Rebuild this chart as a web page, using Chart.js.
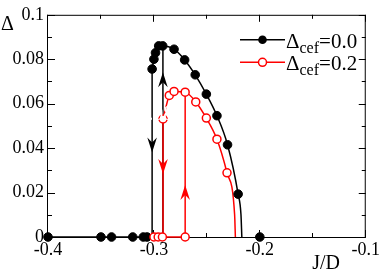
<!DOCTYPE html>
<html>
<head>
  <meta charset="UTF-8" />
  <script src="https://cdn.jsdelivr.net/npm/chart.js"></script>
</head>
<body style="margin:0">
  <canvas id="gapChart" width="382" height="272"></canvas>

  <script>
    // === \u0394cef = 0.0 (black) ===
    const blackZeroJ = [-0.4, -0.35, -0.34, -0.32, -0.31, -0.3065, -0.2];
    const blackJ = [-0.3017, -0.3, -0.2985, -0.2955, -0.2917, -0.281, -0.271, -0.261, -0.2505, -0.2405, -0.2305, -0.2205];
    const blackD = [0.0756, 0.080, 0.0829, 0.086, 0.086, 0.0845, 0.0797, 0.073, 0.0643, 0.0546, 0.0415, 0.0193];
    const blackTailJ = [-0.2178, -0.217];
    const blackTailD = [0.01, 0];
    const blackJumpJ = [-0.3017, -0.2915];
    const blackJumpTop = [0.0756, 0.086];

    // === red series ===
    const redZeroJ = [-0.3, -0.296, -0.292, -0.2705];
    const redJ = [-0.2914, -0.2855, -0.281, -0.2705, -0.2605, -0.2505, -0.2405, -0.231];
    const redD = [0.0531, 0.0637, 0.0655, 0.0652, 0.0608, 0.0535, 0.044, 0.0289];
    const redTailJ = [-0.2238, -0.2231];
    const redTailD = [0.01, 0];
    const redJumpJ = [-0.2914, -0.2705];
    const redJumpTop = [0.0531, 0.0652];

    // hysteresis arrows (tip position, direction)
    const arrowJ = [-0.3017, -0.2915, -0.2914, -0.2705];
    const arrowTipD = [0.038, 0.0741, 0.0284, 0.0234];
    const arrowDir = [-1, 1, -1, 1];
    const arrowSeries = [0, 0, 1, 1];

    const xTicks = [-0.4, -0.3, -0.2, -0.1];
    const yTicks = [0, 0.02, 0.04, 0.06, 0.08, 0.1];

    const seriesColor = ['#000000', '#ff0000'];
    const seriesLabel = ['0.0', '0.2'];
    const DELTA = '\u0394';

    const pts = (xs, ys) => xs.map((v, i) => ({ x: v, y: ys[i] }));
    const zeros = xs => xs.map(v => ({ x: v, y: 0 }));

    function jumpSets(js, tops, color, order) {
      return js.map((j, i) => ({
        data: [{ x: j, y: 0 }, { x: j, y: tops[i] }],
        borderColor: color, borderWidth: 1.5, pointRadius: 0,
        showLine: true, clip: false, order: order
      }));
    }

    const blackMarks = {
      data: zeros(blackZeroJ).concat(pts(blackJ, blackD)),
      showLine: false, pointRadius: 4.3, pointBackgroundColor: '#000',
      pointBorderColor: '#000', pointBorderWidth: 1, clip: false, order: 2
    };
    const blackCurve = {
      data: pts(blackJ, blackD).concat(pts(blackTailJ, blackTailD)),
      showLine: true, borderColor: '#000', borderWidth: 1.5, pointRadius: 0,
      cubicInterpolationMode: 'monotone', clip: false, order: 4
    };
    const blackBase = {
      data: [{ x: blackZeroJ[0], y: 0 }, { x: blackJumpJ[0], y: 0 }],
      showLine: true, borderColor: '#000', borderWidth: 1.5, pointRadius: 0,
      clip: false, order: 4
    };
    const redMarks = {
      data: zeros(redZeroJ).concat(pts(redJ, redD)),
      showLine: false, pointRadius: 4, pointBackgroundColor: '#fff',
      pointBorderColor: '#ff0000', pointBorderWidth: 1.5, clip: false, order: 1
    };
    const redCurve = {
      data: pts(redJ, redD).concat(pts(redTailJ, redTailD)),
      showLine: true, borderColor: '#ff0000', borderWidth: 1.5, pointRadius: 0,
      cubicInterpolationMode: 'monotone', clip: false, order: 3
    };
    const redBase = {
      data: [{ x: redZeroJ[0], y: 0 }, { x: redZeroJ[redZeroJ.length - 1], y: 0 }],
      showLine: true, borderColor: '#ff0000', borderWidth: 1.5, pointRadius: 0,
      clip: false, order: 3
    };

    // frame with inward major/minor ticks on all four sides
    const framePlugin = {
      id: 'frame',
      beforeDatasetsDraw(chart) {
        const { ctx, chartArea: a, scales: { x, y } } = chart;
        ctx.save();
        ctx.strokeStyle = '#000';
        ctx.lineWidth = 1;
        ctx.strokeRect(a.left - 0.5, a.top + 0.5, a.right - a.left, a.bottom - a.top);
        ctx.beginPath();
        for (let i = 0; i <= 10; i++) {
          const py = Math.round(y.getPixelForValue(i * 0.01)) + 0.5;
          const len = i % 2 === 0 ? 7 : 4;
          ctx.moveTo(a.left, py); ctx.lineTo(a.left + len, py);
          ctx.moveTo(a.right, py); ctx.lineTo(a.right - len, py);
        }
        for (let i = 0; i <= 6; i++) {
          const px = Math.round(x.getPixelForValue(-0.4 + i * 0.05)) - 0.5;
          const len = i % 2 === 0 ? 7 : 4;
          ctx.moveTo(px, a.bottom); ctx.lineTo(px, a.bottom - len);
          ctx.moveTo(px, a.top); ctx.lineTo(px, a.top + len);
        }
        ctx.stroke();
        ctx.restore();
      }
    };

    // arrows, legend and axis titles
    const decorPlugin = {
      id: 'decor',
      afterDatasetsDraw(chart) {
        const { ctx, chartArea: a, scales: { x, y } } = chart;
        ctx.save();
        arrowJ.forEach((j, i) => {
          const px = x.getPixelForValue(j);
          const tip = y.getPixelForValue(arrowTipD[i]);
          const d = arrowDir[i];          // +1 points up, -1 points down
          const len = 15, half = 4.8, notch = 10;
          ctx.fillStyle = seriesColor[arrowSeries[i]];
          ctx.beginPath();
          ctx.moveTo(px, tip);
          ctx.lineTo(px - half, tip + d * len);
          ctx.lineTo(px, tip + d * notch);
          ctx.lineTo(px + half, tip + d * len);
          ctx.closePath();
          ctx.fill();
        });

        // legend
        const lx0 = a.left + 192, lx1 = a.left + 237, rowY = [a.top + 25, a.top + 47.5];
        seriesLabel.forEach((lab, i) => {
          const c = seriesColor[i];
          ctx.strokeStyle = c; ctx.lineWidth = 1.5;
          ctx.beginPath(); ctx.moveTo(lx0, rowY[i]); ctx.lineTo(lx1, rowY[i]); ctx.stroke();
          ctx.beginPath();
          ctx.arc((lx0 + lx1) / 2, rowY[i], i === 0 ? 4.3 : 4, 0, Math.PI * 2);
          if (i === 0) { ctx.fillStyle = '#000'; ctx.fill(); }
          else { ctx.fillStyle = '#fff'; ctx.fill(); ctx.lineWidth = 1.5; ctx.stroke(); }

          ctx.fillStyle = '#000';
          ctx.textBaseline = 'alphabetic';
          ctx.textAlign = 'left';
          let tx = lx1 + 1;
          const base = rowY[i] + 8;
          ctx.font = '21px "Liberation Serif"';
          ctx.fillText(DELTA, tx, base);
          tx += ctx.measureText(DELTA).width;
          ctx.font = '16px "Liberation Serif"';
          ctx.fillText('cef', tx, base + 5);
          tx += ctx.measureText('cef').width;
          ctx.font = '21px "Liberation Serif"';
          ctx.fillText('=' + lab, tx, base);
        });

        // axis titles
        ctx.font = '20px "Liberation Serif"';
        ctx.textAlign = 'center';
        ctx.textBaseline = 'middle';
        ctx.fillText(DELTA, 7.5, 25);
        ctx.fillText('J/D', a.left + (a.right - a.left) * 0.875, 264);
        ctx.restore();
      }
    };

    new Chart(document.getElementById('gapChart').getContext('2d'), {
      type: 'scatter',
      data: {
        datasets: [redMarks, blackMarks, redCurve, redBase,
          ...jumpSets(redJumpJ, redJumpTop, '#ff0000', 3),
          blackCurve, blackBase, ...jumpSets(blackJumpJ, blackJumpTop, '#000', 5)]
      },
      options: {
        responsive: false,
        animation: false,
        layout: { padding: { top: 7, right: 12, left: 0, bottom: 0 } },
        plugins: { legend: { display: false }, tooltip: { enabled: false } },
        scales: {
          x: {
            type: 'linear', min: -0.4, max: -0.1,
            afterBuildTicks: s => { s.ticks = xTicks.map(v => ({ value: v })); },
            afterFit: s => { s.height = 35; },
            grid: { display: false, drawTicks: false },
            border: { display: false },
            ticks: { color: '#000', padding: 2, font: { family: '"Liberation Serif"', size: 18 },
              callback: v => String(+v.toFixed(2)) }
          },
          y: {
            type: 'linear', min: 0, max: 0.1,
            afterBuildTicks: s => { s.ticks = yTicks.map(v => ({ value: v })); },
            afterFit: s => { s.width = 48; },
            grid: { display: false, drawTicks: false },
            border: { display: false },
            ticks: { color: '#000', padding: 4, font: { family: '"Liberation Serif"', size: 18 },
              callback: v => String(+v.toFixed(2)) }
          }
        }
      },
      plugins: [framePlugin, decorPlugin]
    });

    // font probe (temporary)
    const c2 = document.getElementById('gapChart').getContext('2d');
    c2.font = '20px "Liberation Serif"';
    c2.fillText('probe J/D 0.08', 55, 120);
  </script>
</body>
</html>
